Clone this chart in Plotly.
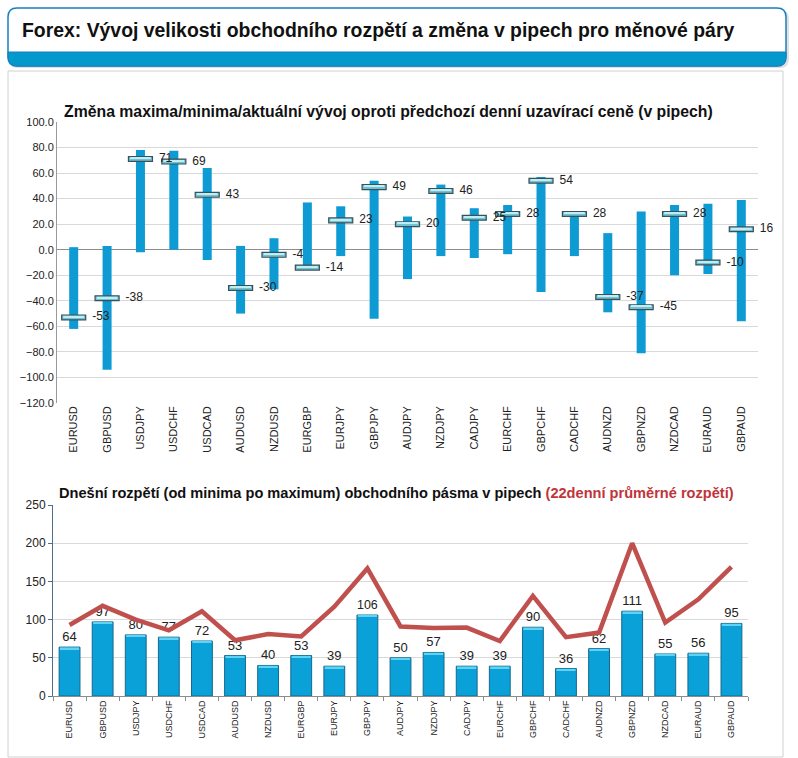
import plotly.graph_objects as go

pairs = ["EURUSD", "GBPUSD", "USDJPY", "USDCHF", "USDCAD", "AUDUSD", "NZDUSD",
         "EURGBP", "EURJPY", "GBPJPY", "AUDJPY", "NZDJPY", "CADJPY", "EURCHF",
         "GBPCHF", "CADCHF", "AUDNZD", "GBPNZD", "NZDCAD", "EURAUD", "GBPAUD"]

day_high = [2, 3, 78, 77.5, 64, 3, 9, 37, 34, 54, 26, 51, 32.5, 35, 57, 29, 13, 30, 35, 36, 39]
day_low = [-62, -94, -2, 0, -8, -50, -31, -15, -5, -54, -23, -5, -6.5, -3.5, -33, -5, -49, -81, -20, -19, -56]
current = [-53, -38, 71, 69, 43, -30, -4, -14, 23, 49, 20, 46, 25, 28, 54, 28, -37, -45, 28, -10, 16]

range_today = [64, 97, 80, 77, 72, 53, 40, 53, 39, 106, 50, 57, 39, 39, 90, 36, 62, 111, 55, 56, 95]
avg_22d = [93, 118, 100, 86, 111, 73, 81, 78, 117, 167, 91, 89, 89.5, 72, 131, 77, 83, 200, 96, 126.5, 169]

top_ticks = [100, 80, 60, 40, 20, 0, -20, -40, -60, -80, -100, -120]
bottom_ticks = [0, 50, 100, 150, 200, 250]

W, H = 798, 758


def px(x):
    return x / W


def py(y):
    return 1 - y / H


def rounded_path(x0, y0, x1, y1, r, top=True, bottom=True):
    """SVG path (paper coords) of a rectangle given in pixels with rounded corners."""
    rt = r if top else 0
    rb = r if bottom else 0
    pts = []
    pts.append(f"M {px(x0 + rt)} {py(y0)}")
    pts.append(f"L {px(x1 - rt)} {py(y0)}")
    pts.append(f"Q {px(x1)} {py(y0)} {px(x1)} {py(y0 + rt)}")
    pts.append(f"L {px(x1)} {py(y1 - rb)}")
    pts.append(f"Q {px(x1)} {py(y1)} {px(x1 - rb)} {py(y1)}")
    pts.append(f"L {px(x0 + rb)} {py(y1)}")
    pts.append(f"Q {px(x0)} {py(y1)} {px(x0)} {py(y1 - rb)}")
    pts.append(f"L {px(x0)} {py(y0 + rt)}")
    pts.append(f"Q {px(x0)} {py(y0)} {px(x0 + rt)} {py(y0)} Z")
    return " ".join(pts)


FONT = "Liberation Sans, Arial, sans-serif"
BAR_BLUE = "#0aa0d8"
n = len(pairs)

fig = go.Figure()

# ---- top chart: daily min..max range bars
fig.add_trace(go.Bar(
    x=pairs, y=[h - l for h, l in zip(day_high, day_low)], base=day_low,
    width=0.27, marker=dict(color="#0e9bd3", line=dict(width=0)),
    xaxis="x", yaxis="y", hoverinfo="skip", showlegend=False))
# current value markers (thin horizontal bars)
fig.add_trace(go.Bar(
    x=pairs, y=[3.8] * n, base=[c - 1.9 for c in current],
    width=0.72, marker=dict(color="#6fc3d3", line=dict(color="#3c5058", width=1.2)),
    xaxis="x", yaxis="y", hoverinfo="skip", showlegend=False))
fig.add_trace(go.Bar(
    x=pairs, y=[1.0] * n, base=[c + 0.2 for c in current],
    width=0.62, marker=dict(color="#bdeef5", line=dict(width=0)),
    xaxis="x", yaxis="y", hoverinfo="skip", showlegend=False))
fig.add_trace(go.Scatter(
    x=pairs, y=current, mode="markers+text", text=[str(c) for c in current],
    textposition="middle right", marker=dict(size=28, opacity=0),
    textfont=dict(family=FONT, size=12, color="#222222"),
    xaxis="x", yaxis="y", hoverinfo="skip", showlegend=False, cliponaxis=False))

# ---- bottom chart
fig.add_trace(go.Bar(
    x=pairs, y=range_today, text=[str(v) for v in range_today], textposition="outside",
    textfont=dict(family=FONT, size=13, color="#222222"),
    width=0.63, marker=dict(color=BAR_BLUE, line=dict(color="#17698e", width=1)),
    xaxis="x2", yaxis="y2", hoverinfo="skip", showlegend=False, cliponaxis=False))
# lighter top cap of each bar
fig.add_trace(go.Bar(
    x=pairs, y=[2.2] * n, base=[v - 2.6 for v in range_today],
    width=0.58, marker=dict(color="#5fd3f3", line=dict(width=0)),
    xaxis="x2", yaxis="y2", hoverinfo="skip", showlegend=False))
fig.add_trace(go.Scatter(
    x=pairs, y=avg_22d, mode="lines", line=dict(color="#c0504d", width=4.5),
    xaxis="x2", yaxis="y2", hoverinfo="skip", showlegend=False))

grid = "#d9d9d9"
fig.update_layout(
    width=W, height=H, margin=dict(l=0, r=0, t=0, b=0, pad=0),
    paper_bgcolor="white", plot_bgcolor="white", barmode="overlay",
    font=dict(family=FONT, size=11, color="#222222"),
    xaxis=dict(domain=[px(57), px(758)], anchor="y", type="category", automargin=False,
               range=[-0.5, n - 0.5], autorange=False,
               tickangle=-90, tickfont=dict(size=11), showgrid=False,
               showline=False, ticks="", fixedrange=True),
    yaxis=dict(domain=[py(403), py(122)], anchor="x", range=[-120, 100], automargin=False,
               tickvals=top_ticks, tickformat=".1f", showgrid=True, gridcolor=grid,
               zeroline=True, zerolinecolor="#8c8c8c", zerolinewidth=1,
               showline=True, linecolor="#9a9a9a", tickfont=dict(size=11), fixedrange=True),
    xaxis2=dict(domain=[px(53), px(748)], anchor="y2", type="category", automargin=False,
                range=[-0.5, n - 0.5], autorange=False,
                tickangle=-90, tickfont=dict(size=9), showgrid=False,
                showline=True, linecolor="#8c8c8c", ticks="outside", ticklen=4,
                tickcolor="#8c8c8c", tickson="boundaries", fixedrange=True),
    yaxis2=dict(domain=[py(696), py(505)], anchor="x2", range=[0, 250], automargin=False,
                tickvals=bottom_ticks, showgrid=True, gridcolor=grid, zeroline=False,
                showline=True, linecolor="#4d6e8c", ticks="outside", ticklen=4,
                tickcolor="#4d6e8c", tickfont=dict(size=12), fixedrange=True),
)

shapes = [
    # header box shadow, frame and blue band
    dict(type="path", xref="paper", yref="paper", path=rounded_path(9, 10, 789, 68, 9),
         line=dict(width=0), fillcolor="rgba(0,0,0,0.12)", layer="below"),
    dict(type="path", xref="paper", yref="paper", path=rounded_path(8, 8, 786, 66, 9),
         line=dict(color="#1a7fc1", width=1.5), fillcolor="white", layer="below"),
    dict(type="path", xref="paper", yref="paper", path=rounded_path(8, 52, 786, 66, 9, top=False),
         line=dict(color="#1a7fc1", width=1), fillcolor="#0399cd", layer="below"),
    # content panel
    dict(type="rect", xref="paper", yref="paper",
         x0=px(8), x1=px(783), y0=py(757), y1=py(71),
         line=dict(color="#d0d0d0", width=1), fillcolor="rgba(0,0,0,0)", layer="below"),
]
fig.update_layout(shapes=shapes)

annotations = [
    dict(text="<b>Forex: Vývoj velikosti obchodního rozpětí a změna v pipech pro měnové páry</b>",
         x=px(20), y=py(30), xref="paper", yref="paper", xanchor="left", yanchor="middle",
         showarrow=False, font=dict(family=FONT, size=19.4, color="#111111")),
    dict(text="<b>Změna maxima/minima/aktuální vývoj oproti předchozí denní uzavírací ceně (v pipech)</b>",
         x=px(62), y=py(112), xref="paper", yref="paper", xanchor="left", yanchor="middle",
         showarrow=False, font=dict(family=FONT, size=15.8, color="#111111")),
    dict(text="<b>Dnešní rozpětí (od minima po maximum) obchodního pásma v pipech "
              "<span style='color:#c0343a'>(22denní průměrné rozpětí)</span></b>",
         x=px(57), y=py(493), xref="paper", yref="paper", xanchor="left", yanchor="middle",
         showarrow=False, font=dict(family=FONT, size=14.6, color="#111111")),
]
fig.update_layout(annotations=annotations)

fig.write_html(
    "out.html",
    config={"displayModeBar": False},
    post_script="document.body.style.margin='0';",
)
